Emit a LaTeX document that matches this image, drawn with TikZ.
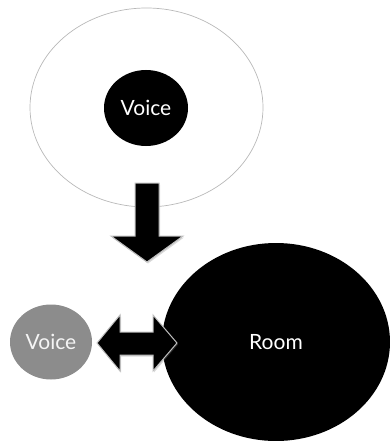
\documentclass[tikz,border=0pt]{standalone}
\usepackage{fontspec}
\setmainfont{Lato}
\usetikzlibrary{shapes.geometric,shadows}
\begin{document}
\begin{tikzpicture}[x=1pt,y=-1pt,every node/.style={inner sep=1pt}]
\tikzstyle{blob}=[ellipse,fill=black,text=white,font=\fontsize{21}{25}\selectfont]
\tikzstyle{blockarrow}=[fill=black,draw=black!25,line width=1pt,line join=miter,drop shadow={shadow xshift=1pt,shadow yshift=-1.5pt,opacity=.3}]
\useasboundingbox (0,0) rectangle (390,441);

\node[ellipse,draw=black!28,line width=.7pt,minimum width=233pt,minimum height=199pt](halo) at (146.5,107.5){};
\node[blob,minimum width=84pt,minimum height=76pt](voice0) at (146,108){Voice};

\node[blob,fill=black!45,text=black!4,minimum width=82pt,minimum height=75pt](voice1) at (51,342){Voice};
\node[blob,minimum width=228pt,minimum height=198pt](room) at (276,342){Room};

% arrows
\path[blockarrow](135,183)--(159,183)--(159,236)--(183,236)--(147,262)--(111,236)--(135,236)--cycle;
\path[blockarrow](97,343)--(120,315)--(120,332)--(153,332)--(153,315)--(177,343)--(153,371)--(153,355)--(120,355)--(120,371)--cycle;
\end{tikzpicture}
\end{document}
